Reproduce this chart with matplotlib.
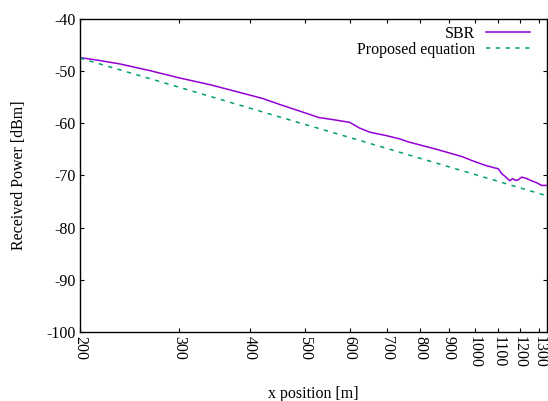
import matplotlib
matplotlib.use("Agg")
import matplotlib.pyplot as plt
from matplotlib.ticker import FixedLocator, NullLocator

# SBR simulation
sbr_x = [200, 215, 235, 266, 300, 340, 400, 420, 452, 504, 530, 554, 600, 625, 652,
         700, 737, 765, 803, 850, 903, 950, 992, 1040, 1080, 1100, 1117, 1135, 1153,
         1167, 1180, 1191, 1211, 1236, 1260, 1287, 1313, 1342]
sbr_y = [-47.4, -47.9, -48.6, -49.9, -51.3, -52.6, -54.6, -55.2, -56.4, -58.1, -58.9, -59.2,
         -59.8, -60.9, -61.7, -62.4, -63.0, -63.6, -64.2, -64.9, -65.7, -66.4, -67.2, -68.0,
         -68.5, -68.7, -69.7, -70.3, -71.0, -70.6, -70.9, -70.9, -70.3, -70.6, -71.0, -71.4,
         -71.9, -71.9]

# proposed equation (straight on log x)
eq_x = [200, 300, 400, 500, 600, 800, 1000, 1342]
eq_y = [-47.5, -53.1, -57.1, -60.2, -62.7, -66.7, -69.8, -73.9]

x_ticks = [200, 300, 400, 500, 600, 700, 800, 900, 1000, 1100, 1200, 1300]
y_ticks = [-100, -90, -80, -70, -60, -50, -40]

font_size = 11.5
plt.rcParams["font.family"] = ["Liberation Serif", "DejaVu Serif"]
plt.rcParams["font.size"] = font_size

fig = plt.figure(figsize=(5.48, 4.01), dpi=100)
ax = fig.add_axes([80 / 548, 69 / 401, 467 / 548, 313 / 401])

ax.plot(sbr_x, sbr_y, color="#9400d3", linewidth=1.1, label="SBR")
line_eq, = ax.plot(eq_x, eq_y, color="#009e73", linewidth=1.1, label="Proposed equation")
line_eq.set_dashes([2.8, 3.6])

ax.set_xscale("log")
ax.set_xlim(200, 1342)
ax.set_ylim(-100, -40)
ax.xaxis.set_major_locator(FixedLocator(x_ticks))
ax.xaxis.set_minor_locator(NullLocator())
ax.set_xticklabels([str(t) for t in x_ticks], rotation=270, va="top", ha="center")
ax.set_yticks(y_ticks)
ax.set_yticklabels([str(t) for t in y_ticks])

ax.tick_params(axis="both", which="both", direction="in", length=3, width=0.8,
               top=True, right=True, labelsize=font_size, pad=3)
for s in ax.spines.values():
    s.set_linewidth(1.0)

ax.set_xlabel("x position [m]", fontsize=font_size, labelpad=13)
ax.set_ylabel("Received Power [dBm]", fontsize=font_size, labelpad=14)

ax.legend(loc="upper right", bbox_to_anchor=(0.9636, 0.978), frameon=False,
          markerfirst=False, handlelength=2.75, handletextpad=0.7, labelspacing=0.0,
          borderpad=0, borderaxespad=0, fontsize=font_size)

fig.savefig("out.png", dpi=100)
